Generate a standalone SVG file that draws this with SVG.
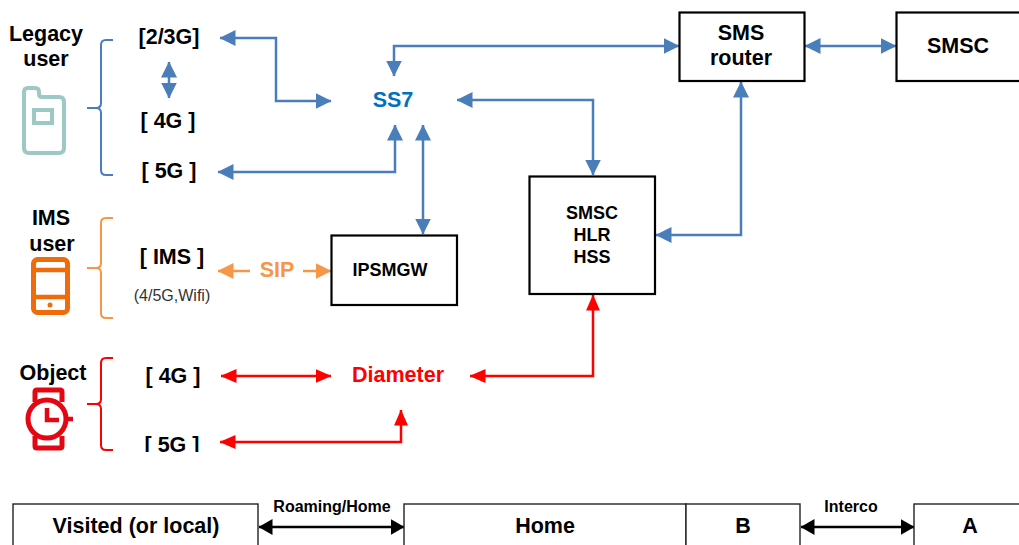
<svg xmlns="http://www.w3.org/2000/svg" width="1019" height="545" viewBox="0 0 1019 545">
<style>
text{font-family:"Liberation Sans",Arial,sans-serif;font-weight:700;fill:#000;text-anchor:middle}
.t20{font-size:21.500px}.t16{font-size:18px}.t14{font-size:16px}
.box{fill:#fff;stroke:#000;stroke-width:2.2}
.thin{fill:#fff;stroke:#222;stroke-width:1.4}
.c{fill:none;stroke-width:2.500}
.b{stroke:#4a7ebb}.r{stroke:#f00}.o{stroke:#f79646;stroke-width:2.500}.k{stroke:#000;stroke-width:2.500}
.bb{fill:none;stroke-width:2}
.ic{fill:none;stroke-width:4;stroke-linejoin:round}
</style>
<defs>
<marker id="ab" markerUnits="userSpaceOnUse" viewBox="0 0 16 16" refX="15.500" refY="8" markerWidth="16" markerHeight="16" orient="auto-start-reverse"><path d="M0 0L16 8L0 16Z" fill="#4a7ebb"/></marker>
<marker id="ar" markerUnits="userSpaceOnUse" viewBox="0 0 16 14" refX="15.500" refY="7" markerWidth="16" markerHeight="14" orient="auto-start-reverse"><path d="M0 0L16 7L0 14Z" fill="#f00"/></marker>
<marker id="ao" markerUnits="userSpaceOnUse" viewBox="0 0 16 16" refX="15.500" refY="8" markerWidth="16" markerHeight="16" orient="auto-start-reverse"><path d="M0 0L16 8L0 16Z" fill="#f79646"/></marker>
<marker id="ak" markerUnits="userSpaceOnUse" viewBox="0 0 14 16" refX="13.500" refY="8" markerWidth="14" markerHeight="16" orient="auto-start-reverse"><path d="M0 0L14 8L0 16Z" fill="#000"/></marker>
<clipPath id="cut"><rect x="130" y="425" width="80" height="27"/></clipPath>
</defs>

<g id="connectors">
<path class="c b" marker-start="url(#ab)" marker-end="url(#ab)" d="M220 38H276V101H331"/>
<path class="c b" marker-start="url(#ab)" marker-end="url(#ab)" d="M169 62V98"/>
<path class="c b" marker-start="url(#ab)" marker-end="url(#ab)" d="M218 172H395V125"/>
<path class="c b" marker-start="url(#ab)" marker-end="url(#ab)" d="M394 76V46H679"/>
<path class="c b" marker-start="url(#ab)" marker-end="url(#ab)" d="M457 100H593V175"/>
<path class="c b" marker-start="url(#ab)" marker-end="url(#ab)" d="M423 125V234"/>
<path class="c b" marker-start="url(#ab)" marker-end="url(#ab)" d="M805 46H896"/>
<path class="c b" marker-start="url(#ab)" marker-end="url(#ab)" d="M656 235H741V82"/>
<path class="c o" marker-start="url(#ao)" d="M218 271H250"/>
<path class="c o" marker-end="url(#ao)" d="M303 271H331"/>
<path class="c r" marker-start="url(#ar)" marker-end="url(#ar)" d="M221 376H331"/>
<path class="c r" marker-start="url(#ar)" marker-end="url(#ar)" d="M220 442H401V410"/>
<path class="c r" marker-start="url(#ar)" marker-end="url(#ar)" d="M470 376H593V295"/>
<path class="c k" marker-start="url(#ak)" marker-end="url(#ak)" d="M259 527H404"/>
<path class="c k" marker-start="url(#ak)" marker-end="url(#ak)" d="M801 527H914"/>
</g>

<g id="legacy-user">
<text class="t20" x="46" y="41">Legacy</text><text class="t20" x="46" y="66">user</text>
<path class="ic" stroke="#9cc9c3" d="M24 92Q24 88 28 88H35Q39 88 39 92V94Q39 97 42 97H59Q64 97 64 102V148Q64 153 59 153H29Q24 153 24 148Z"/>
<rect x="34" y="110" width="18" height="13" fill="none" stroke="#9cc9c3" stroke-width="4"/>
<path class="bb b" d="M113 40H106Q101 40 101 45V103Q101 108 96 108H87M96 108Q101 108 101 113V170Q101 175 106 175H113"/>
</g>
<g id="net-23g"><text class="t20" x="169" y="44">[2/3G]</text></g>
<g id="net-4g"><text class="t20" x="168" y="128">[ 4G ]</text></g>
<g id="net-5g"><text class="t20" x="169" y="178">[ 5G ]</text></g>

<g id="ims-user">
<text class="t20" x="51" y="225">IMS</text><text class="t20" x="52" y="251">user</text>
<rect x="33.500" y="259.500" width="34" height="53" rx="4" fill="none" stroke="#f06c0a" stroke-width="5"/>
<path d="M33 270H68M33 297H68" fill="none" stroke="#f06c0a" stroke-width="4.500"/>
<circle cx="50" cy="305" r="2.500" fill="#f06c0a"/>
<path class="bb" stroke="#f79646" d="M113 218H106Q101 218 101 223V263Q101 268 96 268H87M96 268Q101 268 101 273V313Q101 318 106 318H113"/>
</g>
<g id="net-ims"><text class="t20" x="172" y="264">[ IMS ]</text>
<text x="172" y="301" style="font-size:16px;font-weight:400;fill:#333">(4/5G,Wifi)</text></g>
<g id="sip"><text class="t20" x="277" y="277" style="fill:#f79646">SIP</text></g>

<g id="object">
<text class="t20" x="53" y="380">Object</text>
<circle cx="47" cy="419" r="19" fill="none" stroke="#e30613" stroke-width="5"/>
<path d="M35 402V392Q35 390 37 390H60Q62 390 62 392V402M35 436V446Q35 448 37 448H60Q62 448 62 446V436" fill="none" stroke="#e30613" stroke-width="5"/>
<path d="M47 408V420H59M66 419H73" fill="none" stroke="#e30613" stroke-width="4.500"/>
<path class="bb r" d="M113 358H106Q101 358 101 363V399Q101 404 96 404H87M96 404Q101 404 101 409V445Q101 450 106 450H113"/>
</g>
<g id="obj-4g"><text class="t20" x="173" y="383">[ 4G ]</text></g>
<g id="obj-5g"><text class="t20" x="172" y="452" clip-path="url(#cut)">[ 5G ]</text></g>

<g id="ss7"><text class="t20" x="393" y="107" style="fill:#0070c0">SS7</text></g>
<g id="diameter"><text class="t20" x="398" y="382" style="fill:#f00">Diameter</text></g>

<g id="ipsmgw"><rect class="box" x="331.500" y="235.500" width="125.500" height="69.500"/>
<text class="t16" x="390" y="276">IPSMGW</text></g>
<g id="smsc-hlr-hss"><rect class="box" x="529.500" y="176.500" width="125.500" height="117.500"/>
<text class="t16" x="592" y="219">SMSC</text><text class="t16" x="592" y="241">HLR</text><text class="t16" x="592" y="263">HSS</text></g>
<g id="sms-router"><rect class="box" x="679.500" y="12.500" width="125" height="68.500"/>
<text class="t20" x="741" y="40">SMS</text><text class="t20" x="741" y="65">router</text></g>
<g id="smsc"><rect class="box" x="896.500" y="12.500" width="130" height="68.500"/>
<text class="t20" x="958" y="53">SMSC</text></g>

<g id="visited"><rect class="thin" x="13" y="504" width="245" height="50"/><text class="t20" x="136" y="533">Visited (or local)</text></g>
<g id="roaming"><text class="t14" x="332" y="512">Roaming/Home</text></g>
<g id="home"><rect class="thin" x="404" y="504" width="282" height="50"/><text class="t20" x="545" y="533">Home</text></g>
<g id="b"><rect class="thin" x="686" y="504" width="114" height="50"/><text class="t20" x="743" y="533">B</text></g>
<g id="interco"><text class="t14" x="851" y="512">Interco</text></g>
<g id="a"><rect class="thin" x="914" y="504" width="120" height="50"/><text class="t20" x="970" y="533">A</text></g>
</svg>
